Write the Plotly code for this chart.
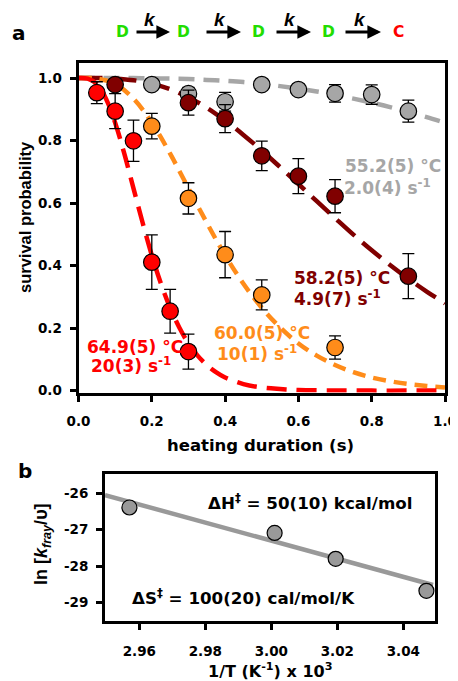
import plotly.graph_objects as go

# ---------------- data: panel a (survival vs heating duration) ----------------
t_gray = [0.2, 0.3, 0.4, 0.5, 0.6, 0.7, 0.8, 0.9]
s_gray = [0.979, 0.950, 0.924, 0.979, 0.963, 0.951, 0.947, 0.894]
e_gray = [0.008, 0.020, 0.030, 0.008, 0.010, 0.028, 0.031, 0.035]

t_darkred = [0.1, 0.3, 0.4, 0.5, 0.6, 0.7, 0.9]
s_darkred = [0.979, 0.921, 0.870, 0.751, 0.686, 0.622, 0.366]
e_darkred = [0.010, 0.040, 0.045, 0.047, 0.056, 0.053, 0.072]

t_orange = [0.2, 0.3, 0.4, 0.5, 0.7]
s_orange = [0.846, 0.615, 0.435, 0.306, 0.138]
e_orange = [0.041, 0.050, 0.074, 0.048, 0.037]

t_red = [0.05, 0.10, 0.15, 0.20, 0.25, 0.30]
s_red = [0.953, 0.894, 0.799, 0.411, 0.254, 0.125]
e_red = [0.035, 0.056, 0.066, 0.087, 0.070, 0.056]

# fitted curves
fit_t = [0.0, 0.05, 0.1, 0.15, 0.2, 0.25, 0.3, 0.35, 0.4, 0.45, 0.5,
         0.55, 0.6, 0.65, 0.7, 0.75, 0.8, 0.85, 0.9, 0.95, 1.0]
fit_gray = [1.000, 1.000, 1.000, 1.000, 0.999, 0.998, 0.997, 0.994, 0.991, 0.987, 0.981,
            0.974, 0.966, 0.957, 0.946, 0.934, 0.921, 0.907, 0.891, 0.875, 0.857]
fit_darkred = [1.000, 1.000, 0.998, 0.993, 0.982, 0.964, 0.938, 0.905, 0.864, 0.818, 0.768,
               0.715, 0.661, 0.606, 0.552, 0.499, 0.449, 0.402, 0.358, 0.317, 0.279]
fit_orange = [1.000, 0.998, 0.981, 0.934, 0.857, 0.758, 0.647, 0.537, 0.433, 0.342, 0.265,
              0.202, 0.151, 0.112, 0.082, 0.059, 0.042, 0.030, 0.021, 0.015, 0.010]
fit_t_red = [0.0, 0.025, 0.05, 0.075, 0.1, 0.125, 0.15, 0.175, 0.2, 0.225, 0.25, 0.275,
             0.3, 0.325, 0.35, 0.375, 0.4, 0.45, 0.5, 0.55, 0.6, 0.7, 0.8, 0.9, 1.0]
fit_red = [1.000, 0.998, 0.981, 0.934, 0.857, 0.758, 0.647, 0.537, 0.433, 0.342, 0.265, 0.202,
           0.151, 0.112, 0.082, 0.059, 0.042, 0.021, 0.010, 0.005, 0.002, 0.0005, 0.0, 0.0, 0.0]

# temperature / rate labels (two lines each)
label_temp = ["55.2(5) °C", "58.2(5) °C", "60.0(5) °C", "64.9(5) °C"]
label_rate = ["2.0(4) s<sup>-1</sup>", "4.9(7) s<sup>-1</sup>",
              "10(1) s<sup>-1</sup>", "20(3) s<sup>-1</sup>"]
temp_xy = [(0.858, 0.720), (0.720, 0.359), (0.501, 0.183), (0.154, 0.138)]
rate_xy = [(0.844, 0.652), (0.708, 0.296), (0.488, 0.120), (0.144, 0.082)]

xticks_a = [0.0, 0.2, 0.4, 0.6, 0.8, 1.0]
yticks_a = [0.0, 0.2, 0.4, 0.6, 0.8, 1.0]

# ---------------- data: panel b (Eyring plot) ----------------
inv_T = [2.957, 3.001, 3.0195, 3.047]
ln_k = [-26.39, -27.09, -27.80, -28.68]
fit_inv_T = [2.9496, 3.049]
fit_ln_k = [-26.05, -28.52]
xticks_b = [2.96, 2.98, 3.00, 3.02, 3.04]
yticks_b = [-26, -27, -28, -29]

# ---------------- styling ----------------
# the page body has an 8 px default margin, so the figure starts at (8, 8)
OFF = 8
W, H = 458 - OFF, 681 - OFF
FONT_V = "Arial, 'Liberation Sans', sans-serif"      # rotated titles
FONT_H = "'DejaVu Sans', Verdana, sans-serif"         # horizontal (wide) texts
C_GRAY = "#a6a6a6"
C_DARKRED = "#800000"
C_ORANGE = "#ff8c1a"
C_RED = "#ff0000"
C_GREEN = "#22dd00"


def px(x):
    return (x - OFF) / W


def py(y):
    return 1 - (y - OFF) / H


fig = go.Figure()

# curves
for t, s, c, dash in [(fit_t, fit_gray, C_GRAY, "16px,9px"),
                      (fit_t, fit_darkred, C_DARKRED, "24px,10px"),
                      (fit_t, fit_orange, C_ORANGE, "13px,8px"),
                      (fit_t_red, fit_red, C_RED, "20px,10px")]:
    fig.add_trace(go.Scatter(x=t, y=s, mode="lines", showlegend=False,
                             line=dict(color=c, width=4.5, dash=dash, shape="spline"),
                             xaxis="x", yaxis="y", hoverinfo="skip"))

# markers
for t, s, e, c in [(t_gray, s_gray, e_gray, C_GRAY),
                   (t_orange, s_orange, e_orange, C_ORANGE),
                   (t_red, s_red, e_red, C_RED),
                   (t_darkred, s_darkred, e_darkred, C_DARKRED)]:
    fig.add_trace(go.Scatter(x=t, y=s, mode="markers", showlegend=False,
                             marker=dict(size=16.5, color=c, line=dict(color="black", width=1.2)),
                             error_y=dict(type="data", array=e, color="black", thickness=1.3, width=6),
                             cliponaxis=False, xaxis="x", yaxis="y"))

# panel b
fig.add_trace(go.Scatter(x=fit_inv_T, y=fit_ln_k, mode="lines", showlegend=False,
                         line=dict(color="#999999", width=4.5), xaxis="x2", yaxis="y2"))
fig.add_trace(go.Scatter(x=inv_T, y=ln_k, mode="markers", showlegend=False,
                         marker=dict(size=15, color="#999999", line=dict(color="black", width=1.2)),
                         cliponaxis=False, xaxis="x2", yaxis="y2"))

axis_common = dict(showline=True, linecolor="black", linewidth=3, mirror=True,
                   ticks="outside", ticklen=6, tickwidth=3, tickcolor="black",
                   showgrid=False, zeroline=False, automargin=False,
                   tickfont=dict(family=FONT_H, size=13.5, color="black", weight="bold"))

fig.update_layout(
    width=W, height=H,
    margin=dict(l=0, r=0, t=0, b=0, autoexpand=False),
    paper_bgcolor="white", plot_bgcolor="white",
    font=dict(family=FONT_H, color="black"),
    xaxis=dict(domain=[px(78.5), px(445)], range=[0, 1], tickvals=xticks_a,
               ticktext=[f"{v:.1f}" for v in xticks_a], anchor="y",
               layer="below traces", ticklabelstandoff=8, **axis_common),
    yaxis=dict(domain=[py(392.5), py(63)], range=[-0.006, 1.048], tickvals=yticks_a,
               ticktext=[f"{v:.1f}" for v in yticks_a], anchor="x",
               ticklabelstandoff=5, **axis_common),
    xaxis2=dict(domain=[px(105), px(435)], range=[2.9496, 3.0496], tickvals=xticks_b,
                ticktext=[f"{v:.2f}" for v in xticks_b], anchor="y2",
                ticklabelstandoff=10, **axis_common),
    yaxis2=dict(domain=[py(620.7), py(474)], range=[-29.5, -25.47], tickvals=yticks_b,
                ticktext=[str(v) for v in yticks_b], anchor="x2",
                ticklabelstandoff=5, **axis_common),
)

ann = []


def note(text, x, y, size, color="black", angle=0, xref="paper", yref="paper", family=FONT_H):
    if xref == "paper":
        x = px(x)
    if yref == "paper":
        y = py(y)
    ann.append(dict(text=text, x=x, y=y, xref=xref, yref=yref, showarrow=False,
                    xanchor="center", yanchor="middle", align="center", textangle=angle,
                    font=dict(family=family, size=size, color=color, weight="bold")))


# temperature/rate labels
for t1, t2, p1, p2, c in zip(label_temp, label_rate, temp_xy, rate_xy,
                             [C_GRAY, C_DARKRED, C_ORANGE, C_RED]):
    note(t1, p1[0], p1[1], 17, c, xref="x", yref="y")
    note(t2, p2[0], p2[1], 17, c, xref="x", yref="y")

# axis titles
note("survival probability", 25, 217, 16.5, angle=-90, family=FONT_V)
note("heating duration (s)", 260, 445, 16.5)
note("ln [<i>k</i><sub><i>fray</i></sub>/υ]", 42, 544, 18, angle=-90, family=FONT_V)
note("1/T (K<sup>-1</sup>) x 10<sup>3</sup>", 270, 670, 16)

# panel b labels
note("ΔH<sup>‡</sup> = 50(10) kcal/mol", 310, 502, 16.7)
note("ΔS<sup>‡</sup> = 100(20) cal/mol/K", 243, 597, 16.7)

# panel letters
note("a", 19, 33, 20)
note("b", 25, 471, 20)

# reaction scheme
scheme_species = ["D", "D", "D", "D", "C"]
scheme_colors = [C_GREEN, C_GREEN, C_GREEN, C_GREEN, C_RED]
species_x = [123, 183, 258, 328, 398]
arrow_x = [(135, 170), (205, 241), (275, 311), (344, 381)]
for s, c, x in zip(scheme_species, scheme_colors, species_x):
    note(s, x, 32, 15.5, c)
for x0, x1 in arrow_x:
    ann.append(dict(text="", x=px(x1), y=py(32), xref="paper", yref="paper",
                    ax=-(x1 - x0), ay=0, axref="pixel", ayref="pixel",
                    showarrow=True, arrowhead=2, arrowsize=0.85, arrowwidth=3.2, arrowcolor="black"))
    note("<i>k</i>", (x0 + x1) / 2 - 3, 19, 19, family=FONT_V)

fig.update_layout(annotations=ann)
fig.write_html("out.html")
